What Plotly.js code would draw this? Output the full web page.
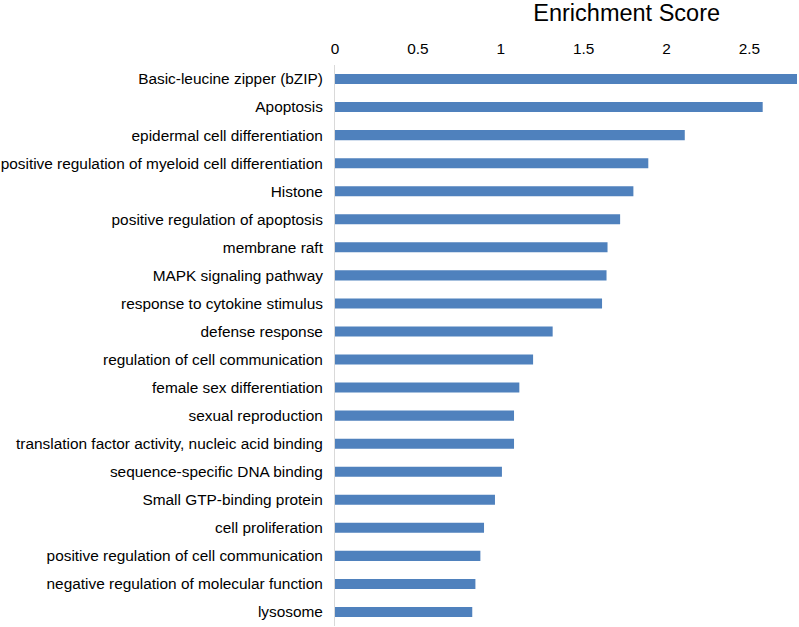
<!DOCTYPE html>
<html>
<head>
<meta charset="utf-8">
<script src="https://cdn.plot.ly/plotly-3.0.1.min.js"></script>
<style>html,body{margin:0;padding:0;background:#fff;}#chart{width:799px;height:627px;}</style>
</head>
<body>
<div id="chart"></div>
<script>
const categories = [
  "Basic-leucine zipper (bZIP)",
  "Apoptosis",
  "epidermal cell differentiation",
  "positive regulation of myeloid cell differentiation",
  "Histone",
  "positive regulation of apoptosis",
  "membrane raft",
  "MAPK signaling pathway",
  "response to cytokine stimulus",
  "defense response",
  "regulation of cell communication",
  "female sex differentiation",
  "sexual reproduction",
  "translation factor activity, nucleic acid binding",
  "sequence-specific DNA binding",
  "Small GTP-binding protein",
  "cell proliferation",
  "positive regulation of cell communication",
  "negative regulation of molecular function",
  "lysosome"
];
const scores = [2.79, 2.58, 2.11, 1.89, 1.80, 1.72, 1.644, 1.638, 1.611, 1.313, 1.195, 1.112, 1.08, 1.08, 1.007, 0.965, 0.899, 0.877, 0.847, 0.828];
const tickValues = [0, 0.5, 1, 1.5, 2, 2.5];
const tickLabels = ["0", "0.5", "1", "1.5", "2", "2.5"];

const trace = {
  type: "bar",
  orientation: "h",
  x: scores,
  y: categories,
  width: 0.36,
  marker: {color: "#4f81bd"},
  hoverinfo: "x+y"
};

const layout = {
  width: 799,
  height: 627,
  margin: {l: 335, r: 2, t: 65, b: 1},
  paper_bgcolor: "#ffffff",
  plot_bgcolor: "#ffffff",
  font: {family: "Liberation Sans, Arial, sans-serif", size: 15.4, color: "#000000"},
  showlegend: false,
  title: {
    text: "Enrichment Score",
    font: {family: "Liberation Sans, Arial, sans-serif", size: 23.5, color: "#000000"},
    x: 626.7 / 799,
    xanchor: "center",
    xref: "container",
    y: 1 - 13 / 627,
    yanchor: "middle",
    yref: "container"
  },
  xaxis: {
    side: "top",
    range: [0, 2.787],
    tickvals: tickValues,
    ticktext: tickLabels,
    showgrid: false,
    zeroline: false,
    showline: false,
    ticks: "outside",
    ticklen: 4,
    ticklabelstandoff: 0,
    tickcolor: "rgba(0,0,0,0)",
    tickfont: {size: 15.4, color: "#000000"},
    fixedrange: true
  },
  yaxis: {
    type: "category",
    categoryorder: "array",
    categoryarray: categories,
    autorange: "reversed",
    showgrid: false,
    zeroline: false,
    showline: true,
    linecolor: "#d9d9d9",
    linewidth: 1,
    ticks: "outside",
    ticklen: 8,
    tickcolor: "rgba(0,0,0,0)",
    tickfont: {size: 15.4, color: "#000000"},
    fixedrange: true
  }
};

Plotly.newPlot("chart", [trace], layout, {displayModeBar: false, staticPlot: true});
</script>
</body>
</html>
